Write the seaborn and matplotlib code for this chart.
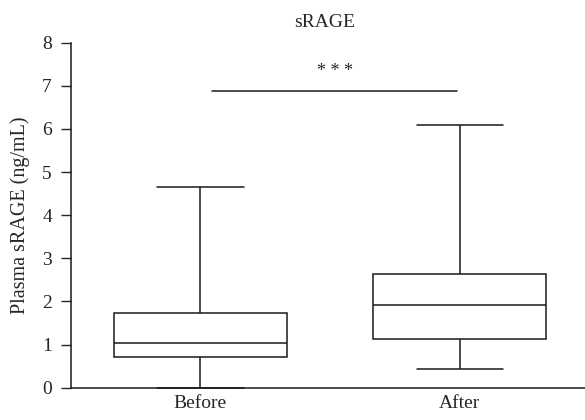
import numpy as np
import pandas as pd
import matplotlib
matplotlib.use("Agg")
import matplotlib.pyplot as plt
import seaborn as sns

# five-number summaries (min, Q1, median, Q3, max)
groups = ["Before", "After"]
before_vals = [0.0, 0.72, 1.04, 1.74, 4.66]
after_vals = [0.43, 1.12, 1.92, 2.63, 6.10]

# significance bracket
sig_x = [0.045, 0.987]
sig_y = 6.88
sig_text = "* * *"
sig_text_y = 7.33

df = pd.DataFrame({
    "group": ["Before"] * len(before_vals) + ["After"] * len(after_vals),
    "value": before_vals + after_vals,
})

sns.set_style("ticks")
plt.rcParams["font.family"] = ["Liberation Serif", "DejaVu Serif"]

fig = plt.figure(figsize=(5.85, 4.2), dpi=100)
ax = fig.add_axes([70.7 / 585, 1 - 387.7 / 420, 1 - 70.7 / 585, (387.7 - 42.7) / 420])

# with 5 points per group, whis=(0,100) gives exact min/max whiskers
sns.boxplot(data=df, x="group", y="value", order=groups, whis=(0, 100),
            width=0.667, color="white", linecolor="#1a1a1a", linewidth=1.1,
            fliersize=0, ax=ax)
for a in ax.patches:
    a.set_facecolor("white")
for ln in ax.lines:
    ln.set_clip_on(False)

ax.plot(sig_x, [sig_y, sig_y], color="#1a1a1a", lw=1.1)
ax.text(0.518, sig_text_y, sig_text, ha="center", va="center", fontsize=13)

ax.set_xlim(-0.5, 1.482)
ax.set_ylim(0, 8)
ax.set_yticks(range(0, 9))
ax.set_xlabel("")
ax.set_ylabel("Plasma sRAGE (ng/mL)", fontsize=14.5, labelpad=9)
ax.set_title("sRAGE", fontsize=14, pad=11, x=0.494)
ax.tick_params(axis="y", length=7, width=1, labelsize=14, pad=6.5)
ax.tick_params(axis="x", length=0, labelsize=14, pad=5)
for s in ["top", "right"]:
    ax.spines[s].set_visible(False)
for s in ["left", "bottom"]:
    ax.spines[s].set_linewidth(1.1)
    ax.spines[s].set_color("#1a1a1a")

fig.savefig("out.png", dpi=100)
